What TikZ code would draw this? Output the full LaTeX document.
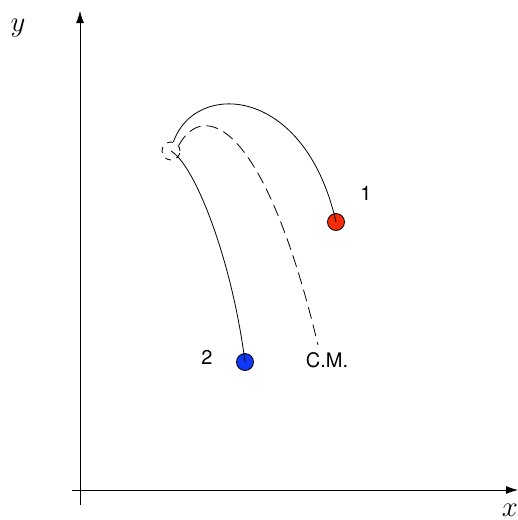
\documentclass[tikz,border=0pt]{standalone}
\usepackage{fontspec}
\setsansfont{TeX Gyre Heros}
\usetikzlibrary{arrows.meta}
\definecolor{rojo}{RGB}{245,45,10}
\definecolor{azul}{RGB}{15,55,245}
\tikzset{
  eje/.style={-{Latex[length=6pt,width=4pt]},black,thin},
  cuerpo/.style={circle,draw=black,thin,minimum size=8.5pt,inner sep=0pt},
  tray/.style={black,thin},
  etiq/.style={font=\sffamily}
}

\begin{document}
\begin{tikzpicture}[x=0.5pt,y=-0.5pt]
\useasboundingbox (0,0) rectangle (518,520);
% ejes
\coordinate (ybot) at (80,505);
\coordinate (ytop) at (80,11);
\coordinate (xizq) at (72,490);
\coordinate (xder) at (518,490);
\draw[eje] (ybot)--(ytop);
\draw[eje] (xizq)--(xder);
\node (ylab) at (18,28) {\Large $y$};
\node (xlab) at (510,510) {\Large $x$};
% cuerpos
\node[cuerpo,dashed,minimum size=9pt] (cm0) at (171,151) {};
\node[cuerpo,fill=rojo] (m1) at (336,222) {};
\node[cuerpo,fill=azul] (m2) at (245,362) {};
\node[etiq] (lab1) at (366,193) {1};
\node[etiq] (lab2) at (207,357) {2};
\node[etiq] (cm) at (327,360) {C.M.};
\coordinate (cmfin) at (318,345);
% trayectorias
\draw[tray] (cm0.75) .. controls (195,80) and (305,85) .. (m1.center);
\draw[tray] (cm0.center) .. controls (195,165) and (232,260) .. (m2.center);
\draw[tray,dash pattern=on 6pt off 3pt] (cm0.35) .. controls (203,100) and (264,120) .. (cmfin);
\end{tikzpicture}
\end{document}
